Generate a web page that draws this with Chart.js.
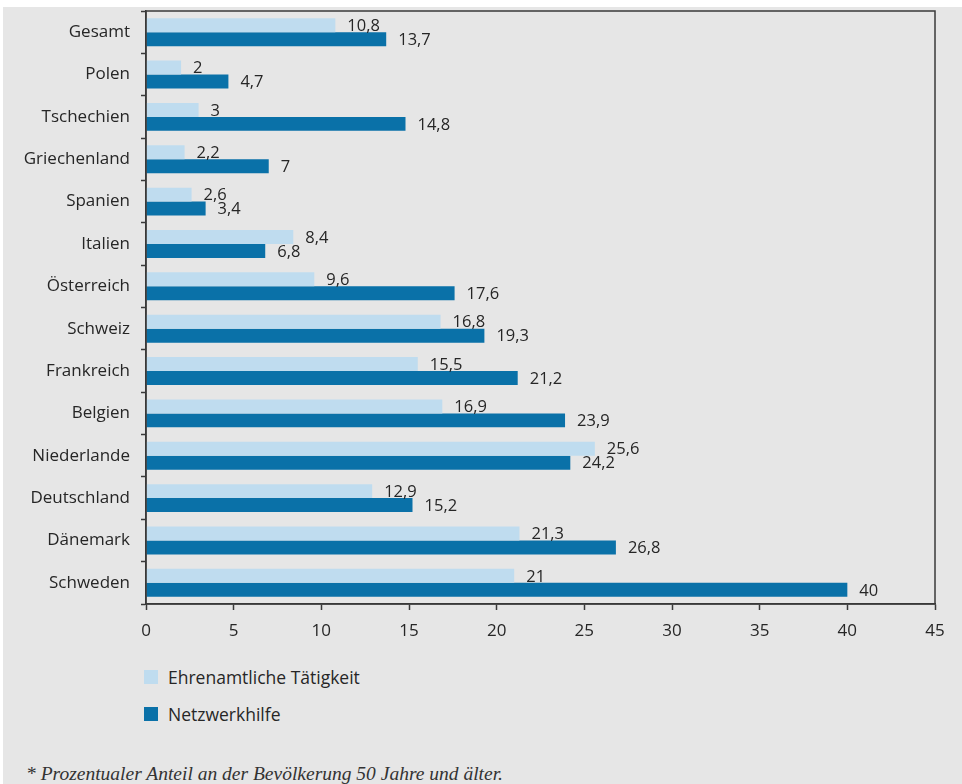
<!DOCTYPE html>
<html lang="de">
<head>
    <meta charset="UTF-8">
    <title>Ehrenamtliche Tätigkeit und Netzwerkhilfe</title>
    <style>
        body {
            margin: 0;
            background: #ffffff;
            font-family: "Open Sans", sans-serif;
            width: 962px;
            height: 784px;
            overflow: hidden;
        }

        #panel {
            position: absolute;
            left: 3px;
            top: 7px;
            right: 0;
            bottom: 0;
            background: #e6e6e6;
        }

        #chartBox {
            position: absolute;
            left: 0;
            top: 0;
        }

        #legend {
            position: absolute;
            left: 144px;
            top: 665px;
        }

        .legendItem {
            display: flex;
            align-items: center;
            height: 24px;
            margin-bottom: 13px;
            font-size: 17.5px;
            color: #262626;
        }

        .legendItem span.box {
            width: 14px;
            height: 14px;
            margin-right: 10px;
        }

        #note {
            position: absolute;
            left: 26px;
            top: 763px;
            font-family: "Liberation Serif", serif;
            font-style: italic;
            font-size: 19.5px;
            color: #333;
            white-space: nowrap;
        }
    </style>
    <script src="https://cdn.jsdelivr.net/npm/chart.js"></script>
</head>
<body>
    <div id="panel"></div>
    <div id="chartBox">
        <canvas id="chart" width="962" height="650"></canvas>
    </div>
    <div id="legend"></div>
    <div id="note">* Prozentualer Anteil an der Bevölkerung 50 Jahre und älter.</div>

    <script>
        const countries = ['Gesamt', 'Polen', 'Tschechien', 'Griechenland', 'Spanien', 'Italien',
            'Österreich', 'Schweiz', 'Frankreich', 'Belgien', 'Niederlande', 'Deutschland',
            'Dänemark', 'Schweden'];
        const ehrenamt = [10.8, 2, 3, 2.2, 2.6, 8.4, 9.6, 16.8, 15.5, 16.9, 25.6, 12.9, 21.3, 21];
        const netzwerk = [13.7, 4.7, 14.8, 7, 3.4, 6.8, 17.6, 19.3, 21.2, 23.9, 24.2, 15.2, 26.8, 40];
        const xTicks = [0, 5, 10, 15, 20, 25, 30, 35, 40, 45];

        const textColor = '#262626';
        const axisColor = '#3a3a3a';

        // Werte rechts neben den Balken, mit Dezimalkomma
        const valueLabels = {
            id: 'valueLabels',
            afterDatasetsDraw(chart) {
                const ctx = chart.ctx;
                ctx.save();
                ctx.font = '16.5px "Open Sans"';
                ctx.fillStyle = textColor;
                ctx.textBaseline = 'middle';
                chart.data.datasets.forEach((ds, i) => {
                    chart.getDatasetMeta(i).data.forEach((bar, j) => {
                        const txt = String(ds.data[j]).replace('.', ',');
                        ctx.fillText(txt, bar.x + 12, bar.y + 1);
                    });
                });
                ctx.restore();
            }
        };

        // Rahmen um die Zeichenfläche (oben und rechts)
        const frame = {
            id: 'frame',
            afterDraw(chart) {
                const a = chart.chartArea;
                const ctx = chart.ctx;
                ctx.save();
                ctx.strokeStyle = axisColor;
                ctx.lineWidth = 1.5;
                ctx.strokeRect(a.left, a.top, a.right - a.left, a.bottom - a.top);
                ctx.restore();
            }
        };

        const chart = new Chart(document.getElementById('chart'), {
            type: 'bar',
            data: {
                labels: countries,
                datasets: [
                    {
                        label: 'Ehrenamtliche Tätigkeit',
                        data: ehrenamt,
                        backgroundColor: '#bfdcef',
                        categoryPercentage: 0.66,
                        barPercentage: 1
                    },
                    {
                        label: 'Netzwerkhilfe',
                        data: netzwerk,
                        backgroundColor: '#0a71a8',
                        categoryPercentage: 0.66,
                        barPercentage: 1
                    }
                ]
            },
            options: {
                indexAxis: 'y',
                responsive: false,
                animation: false,
                devicePixelRatio: 1,
                layout: { padding: { top: 11, right: 27, left: 0, bottom: 0 } },
                plugins: {
                    legend: { display: false },
                    tooltip: { enabled: false }
                },
                scales: {
                    x: {
                        min: 0,
                        max: 45,
                        afterFit: s => { s.height = 46; },
                        afterBuildTicks: s => { s.ticks = xTicks.map(v => ({ value: v })); },
                        grid: {
                            drawOnChartArea: false,
                            drawTicks: true,
                            tickLength: 6,
                            tickColor: axisColor,
                            tickWidth: 1.5
                        },
                        border: { color: axisColor, width: 1.5 },
                        ticks: {
                            color: textColor,
                            font: { family: 'Open Sans', size: 17 },
                            padding: 11
                        }
                    },
                    y: {
                        afterFit: s => {
                            s.width = 146;
                            s.paddingTop = 0;
                            s.paddingBottom = 0;
                        },
                        grid: {
                            offset: true,
                            drawOnChartArea: false,
                            drawTicks: true,
                            tickLength: 5,
                            tickColor: axisColor,
                            tickWidth: 1.5
                        },
                        border: { color: axisColor, width: 1.5 },
                        ticks: {
                            color: textColor,
                            font: { family: 'Open Sans', size: 17 },
                            padding: 11
                        }
                    }
                }
            },
            plugins: [valueLabels, frame]
        });

        // Legende untereinander, aus den Datensätzen gebaut
        const legendBox = document.getElementById('legend');
        chart.data.datasets.forEach(ds => {
            const item = document.createElement('div');
            item.className = 'legendItem';
            const box = document.createElement('span');
            box.className = 'box';
            box.style.background = ds.backgroundColor;
            const label = document.createElement('span');
            label.textContent = ds.label;
            item.appendChild(box);
            item.appendChild(label);
            legendBox.appendChild(item);
        });
    </script>
</body>
</html>
